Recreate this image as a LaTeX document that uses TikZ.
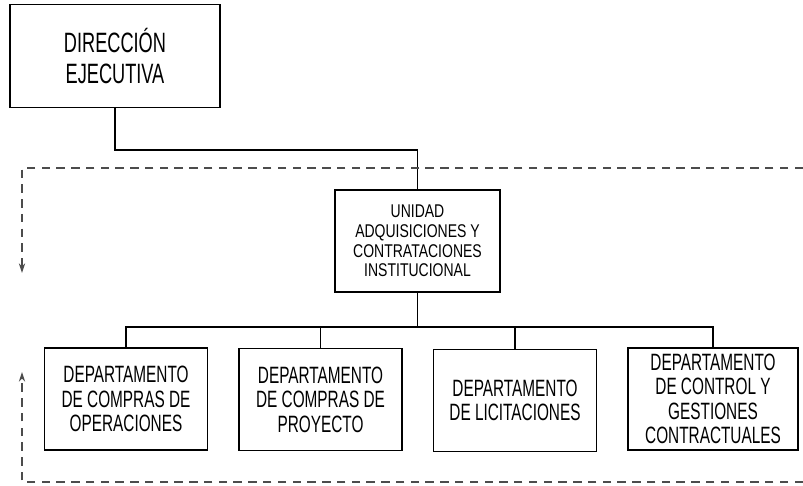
\documentclass[tikz,border=0pt]{standalone}
\usepackage{fontspec}
\setmainfont[FakeStretch=0.65]{Liberation Sans}
\newfontfamily\unitfont[FakeStretch=0.76]{Liberation Sans}
\usetikzlibrary{arrows.meta}

\newlength{\px}
\setlength{\px}{0.025cm}
\tikzset{
  box/.style={draw, line width=0.9pt, align=center, inner sep=0pt},
  deptbox/.style={box, minimum width=163\px, minimum height=102\px,
    font=\fontsize{16.8pt}{17.4pt}\selectfont},
  link/.style={line width=0.8pt},
  flow/.style={line width=0.8pt, black!70, dash pattern=on 6pt off 4.5pt},
}

\begin{document}
\begin{tikzpicture}[x=0.025cm, y=-0.025cm]
		\useasboundingbox (0,0) rectangle (803,486);

		% top
		\node[box, minimum width=210\px, minimum height=103\px,
			font=\fontsize{19.9pt}{22pt}\selectfont] (dir) at (115,56)
			{DIRECCIÓN\\EJECUTIVA};

		\node[box, minimum width=165\px, minimum height=102\px,
			font=\unitfont\fontsize{13.1pt}{13.9pt}\selectfont] (uac) at (417.5,241)
			{UNIDAD\\ADQUISICIONES Y\\CONTRATACIONES\\INSTITUCIONAL};

		% departamentos
		\node[deptbox] (d1) at (126,399) {DEPARTAMENTO\\DE COMPRAS DE\\OPERACIONES};
		\node[deptbox] (d2) at (320.5,399.5) {DEPARTAMENTO\\DE COMPRAS DE\\PROYECTO};
		\node[deptbox] (d3) at (515,400.5) {DEPARTAMENTO\\DE LICITACIONES};
		\node[deptbox, minimum width=170\px] (d4) at (713,399)
			{DEPARTAMENTO\\DE CONTROL Y\\GESTIONES\\CONTRACTUALES};

		\coordinate (bend) at (115,150);
		\coordinate (bus) at (417.5,327);
		\draw[link] (dir.south) -- (bend) -| (uac.north);
		\draw[link] (uac.south) -- (bus);
		\foreach \d in {d1,d2,d3,d4}
			\draw[link] (bus) -| (\d.north);

		% flujo
		\coordinate (tl) at (22,168);
		\coordinate (tr) at (803,168);
		\coordinate (ta) at (22,273);
		\coordinate (bl) at (22,482);
		\coordinate (br) at (803,482);
		\coordinate (ba) at (22,372);
		\draw[flow, -{Stealth[length=7pt, width=4.5pt]}] (tr) -- (tl) -- (ta);
		\draw[flow, -{Stealth[length=7pt, width=4.5pt]}] (br) -- (bl) -- (ba);
	\end{tikzpicture}
\end{document}
